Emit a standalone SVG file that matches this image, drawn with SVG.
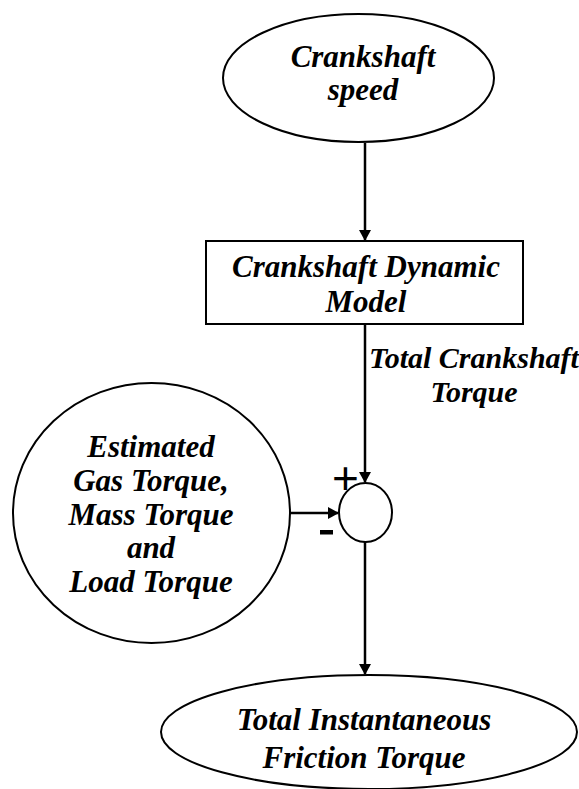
<svg xmlns="http://www.w3.org/2000/svg" width="579" height="789" viewBox="0 0 579 789">
<style>
.shape{fill:#fff;stroke:#000;stroke-width:2}
.lbl{font-family:"Liberation Serif","Times New Roman",serif;font-weight:bold;font-style:italic;font-size:31px;fill:#000;text-anchor:middle}
.elbl{font-size:30px}
.conn{stroke:#000;stroke-width:2.5;fill:none}
.sign{font-family:"Liberation Sans",Arial,sans-serif;fill:#000;text-anchor:middle}
</style>
<defs>
<marker id="arr" markerWidth="12" markerHeight="12" refX="10" refY="6" orient="auto" markerUnits="userSpaceOnUse">
<path d="M0,0 L11,6 L0,12 Z" fill="#000"/>
</marker>
</defs>
<rect width="579" height="789" fill="#fff"/>
<g id="connectors">
<line class="conn" x1="365" y1="143" x2="365" y2="240" marker-end="url(#arr)"/>
<line class="conn" x1="365" y1="324" x2="365" y2="482" marker-end="url(#arr)"/>
<line class="conn" x1="290" y1="513" x2="338" y2="513" marker-end="url(#arr)"/>
<line class="conn" x1="365" y1="542" x2="365" y2="674" marker-end="url(#arr)"/>
<text class="lbl elbl" x="474" y="368">Total Crankshaft</text>
<text class="lbl elbl" x="474" y="402">Torque</text>
</g>
<g id="crankshaft-speed">
<ellipse class="shape" cx="358.5" cy="78" rx="135.5" ry="64"/>
<text class="lbl" x="363" y="67">Crankshaft</text>
<text class="lbl" x="363" y="100">speed</text>
</g>
<g id="dynamic-model">
<rect class="shape" x="206" y="241" width="317" height="83"/>
<text class="lbl" x="366" y="277">Crankshaft Dynamic</text>
<text class="lbl" x="366" y="312">Model</text>
</g>
<g id="estimated">
<ellipse class="shape" cx="151.5" cy="513" rx="138.5" ry="130"/>
<text class="lbl" x="151" y="457">Estimated</text>
<text class="lbl" x="151" y="491">Gas Torque,</text>
<text class="lbl" x="151" y="525">Mass Torque</text>
<text class="lbl" x="151" y="558">and</text>
<text class="lbl" x="151" y="592">Load Torque</text>
</g>
<g id="sum">
<ellipse class="shape" cx="365.5" cy="512.5" rx="26.5" ry="29.5"/>
<text class="sign" x="345.5" y="494" font-size="46">+</text>
<rect x="320" y="530" width="13" height="4.5" fill="#000"/>
</g>
<g id="friction">
<ellipse class="shape" cx="369" cy="732" rx="208" ry="57"/>
<text class="lbl" x="364" y="730">Total Instantaneous</text>
<text class="lbl" x="364" y="768">Friction Torque</text>
</g>
</svg>
